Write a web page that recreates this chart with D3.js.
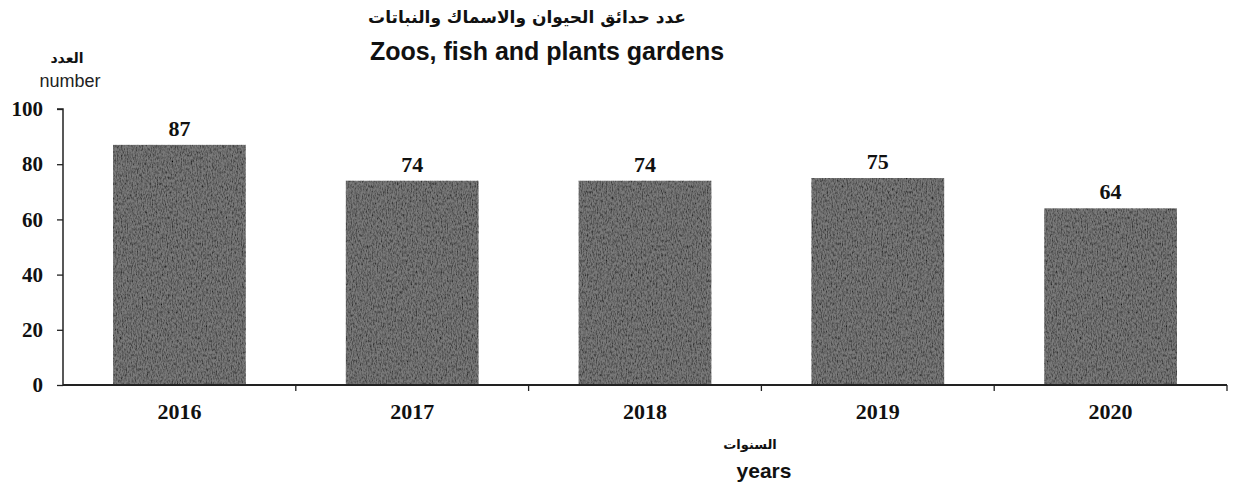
<!DOCTYPE html>
<html><head><meta charset="utf-8">
<script src="https://cdn.jsdelivr.net/npm/d3@7"></script>
<style>body{margin:0;background:#fff}svg{display:block}</style>
</head><body>
<svg id="c" width="1235" height="487"></svg>
<script>
const years = ["2016","2017","2018","2019","2020"];
const counts = [87,74,74,75,64];
const yTicks = [0,20,40,60,80,100];

const svg = d3.select("#c");
const m = {l:63, r:1227, t:109, b:385};
const x = d3.scaleBand().domain(years).range([m.l, m.r]).paddingInner(0.43).paddingOuter(0.215);
const xb = d3.scaleBand().domain(years).range([m.l, m.r]);
const y = d3.scaleLinear().domain([0,100]).range([m.b, m.t]);

const defs = svg.append("defs");
const f = defs.append("filter").attr("id","noise").attr("x",0).attr("y",0).attr("width",1).attr("height",1);
f.append("feTurbulence").attr("type","fractalNoise").attr("baseFrequency","0.8 0.35").attr("numOctaves",2).attr("seed",3).attr("result","n");
f.append("feColorMatrix").attr("in","n").attr("type","matrix")
 .attr("values","0 0 0 0 0  0 0 0 0 0  0 0 0 0 0  -1.8 0 0 0 1.15").attr("result","dark");
f.append("feComposite").attr("in","dark").attr("in2","SourceGraphic").attr("operator","in").attr("result","d2");
f.append("feMerge").selectAll("feMergeNode").data(["SourceGraphic","d2"]).join("feMergeNode").attr("in",d=>d);

// bars
svg.append("g").selectAll("rect").data(years).join("rect")
  .attr("x", d=>x(d)).attr("width", x.bandwidth())
  .attr("y", (d,i)=>y(counts[i])).attr("height",(d,i)=>y(0)-y(counts[i]))
  .attr("fill","#7a7a7a").attr("filter","url(#noise)");

// value labels
svg.append("g").selectAll("text").data(years).join("text")
  .attr("x", d=>x(d)+x.bandwidth()/2).attr("y",(d,i)=>y(counts[i])-9)
  .attr("text-anchor","middle").attr("font-family","Liberation Serif, serif").attr("font-weight","bold")
  .attr("font-size",22).attr("fill","#111").text((d,i)=>counts[i]);

// y axis
const ya = svg.append("g").attr("transform",`translate(${m.l},0)`)
  .call(d3.axisLeft(y).tickValues(yTicks).tickSize(6).tickPadding(14));
ya.select(".domain").attr("stroke","#222").attr("stroke-width",1.5).attr("d",`M-6,${m.t}H0V${m.b}`);
ya.selectAll(".tick line").attr("stroke","#222").attr("stroke-width",1.3);
ya.selectAll("text").attr("font-family","Liberation Serif, serif").attr("font-weight","bold").attr("font-size",21).attr("fill","#111");

// x axis
const xa = svg.append("g").attr("transform",`translate(0,${m.b})`);
xa.append("line").attr("x1",m.l).attr("x2",m.r).attr("stroke","#222").attr("stroke-width",1.8);
xa.selectAll("line.tk").data(years.slice(1).concat(["end"])).join("line").attr("class","tk")
  .attr("x1",d=>d==="end"?m.r:xb(d)).attr("x2",d=>d==="end"?m.r:xb(d))
  .attr("y1",0).attr("y2",6).attr("stroke","#222").attr("stroke-width",1.3);
xa.selectAll("text").data(years).join("text")
  .attr("x",d=>xb(d)+xb.bandwidth()/2).attr("y",34).attr("text-anchor","middle")
  .attr("font-family","Liberation Serif, serif").attr("font-weight","bold").attr("font-size",22).attr("fill","#111").text(d=>d);

// titles
svg.append("text").attr("x",527).attr("y",23).attr("text-anchor","middle").attr("direction","rtl")
  .attr("font-family","DejaVu Sans, sans-serif").attr("font-weight","bold").attr("font-size",17).attr("fill","#111")
  .text("عدد حدائق الحيوان والاسماك والنباتات");
svg.append("text").attr("x",547).attr("y",60).attr("text-anchor","middle")
  .attr("font-family","Liberation Sans, Arial, sans-serif").attr("font-weight","bold").attr("font-size",25).attr("fill","#111")
  .text("Zoos, fish and plants gardens");
svg.append("text").attr("x",67).attr("y",63).attr("text-anchor","middle")
  .attr("font-family","DejaVu Sans, sans-serif").attr("font-weight","bold").attr("font-size",14).attr("fill","#111").text("العدد");
svg.append("text").attr("x",70).attr("y",87).attr("text-anchor","middle")
  .attr("font-family","Liberation Sans, Arial, sans-serif").attr("font-size",18).attr("fill","#222").text("number");
svg.append("text").attr("x",750).attr("y",449).attr("text-anchor","middle")
  .attr("font-family","DejaVu Sans, sans-serif").attr("font-weight","bold").attr("font-size",13).attr("fill","#111").text("السنوات");
svg.append("text").attr("x",764).attr("y",478).attr("text-anchor","middle")
  .attr("font-family","Liberation Sans, Arial, sans-serif").attr("font-weight","bold").attr("font-size",21).attr("fill","#111").text("years");
</script>
</body></html>
